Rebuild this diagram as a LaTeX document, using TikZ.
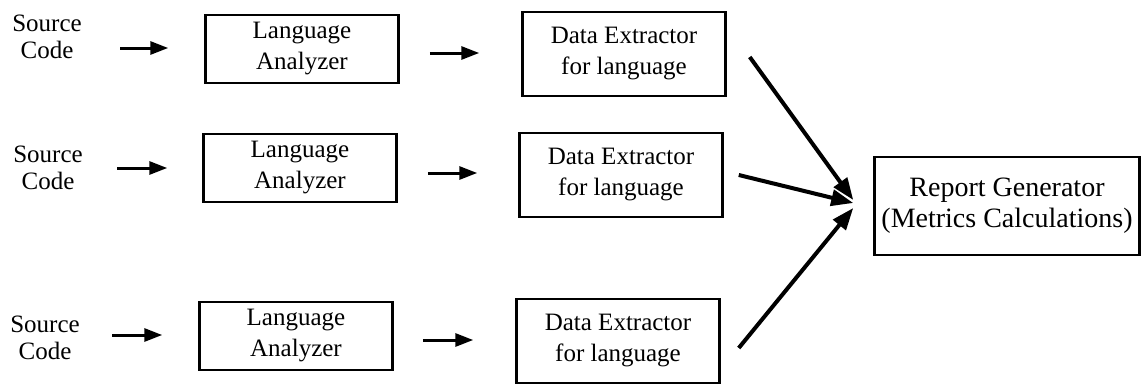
\documentclass[tikz,border=0pt]{standalone}
\usepackage{fontspec}
\setmainfont{Liberation Serif}
\usetikzlibrary{arrows.meta,calc}
\begin{document}
\begin{tikzpicture}[x=1pt,y=-1pt,
  box/.style={draw, line width=2.5pt, inner sep=0pt, align=center, font=\fontsize{25}{31}\selectfont},
  labox/.style={box, minimum width=193pt, minimum height=68pt},
  debox/.style={box, minimum width=203pt, minimum height=84pt},
  src/.style={align=center, inner sep=0pt, font=\fontsize{25}{27}\selectfont},
  sarr/.style={line width=3pt, -{Triangle[length=18pt,width=13pt]}},
  larr/.style={line width=4pt, -{Triangle[length=22pt,width=16pt]}}]
\useasboundingbox (0,0) rectangle (1143,388);
% row 1
\node[src] (s1) at (47,37) {Source\\Code};
\node[labox] (l1) at (302,49) {Language\\Analyzer};
\node[debox] (d1) at (624,54) {Data Extractor\\for language};
% row 2
\node[src] (s2) at (48,168) {Source\\Code};
\node[labox] (l2) at (300,168) {Language\\Analyzer};
\node[debox] (d2) at (621,175) {Data Extractor\\for language};
% row 3
\node[src] (s3) at (45,338) {Source\\Code};
\node[labox] (l3) at (296,336) {Language\\Analyzer};
\node[debox] (d3) at (618,341) {Data Extractor\\for language};
% report generator
\node[box, minimum width=265pt, minimum height=98pt, font=\fontsize{28}{31}\selectfont] (rg) at (1007,206) {Report Generator\\(Metrics Calculations)};
% short arrows
\draw[sarr] ($(l1.west)+(-84,-1)$) -- ($(l1.west)+(-36,-1)$);
\draw[sarr] ($(l1.east)+(30,4)$) -- ($(d1.west)+(-42,-1)$);
\draw[sarr] ($(l2.west)+(-85,0)$) -- ($(l2.west)+(-35,0)$);
\draw[sarr] ($(l2.east)+(30,5)$) -- ($(d2.west)+(-41,-2)$);
\draw[sarr] ($(l3.west)+(-86,-1)$) -- ($(l3.west)+(-36,-1)$);
\draw[sarr] ($(l3.east)+(29,4)$) -- ($(d3.west)+(-42,-1)$);
% long arrows
\draw[larr] ($(d1.east)+(23,3)$) -- ($(rg.west)+(-20,-6)$);
\draw[larr] ($(d2.east)+(15,0)$) -- ($(rg.west)+(-20,-3)$);
\draw[larr] ($(d3.east)+(18,7)$) -- ($(rg.west)+(-20,2)$);
\end{tikzpicture}
\end{document}
